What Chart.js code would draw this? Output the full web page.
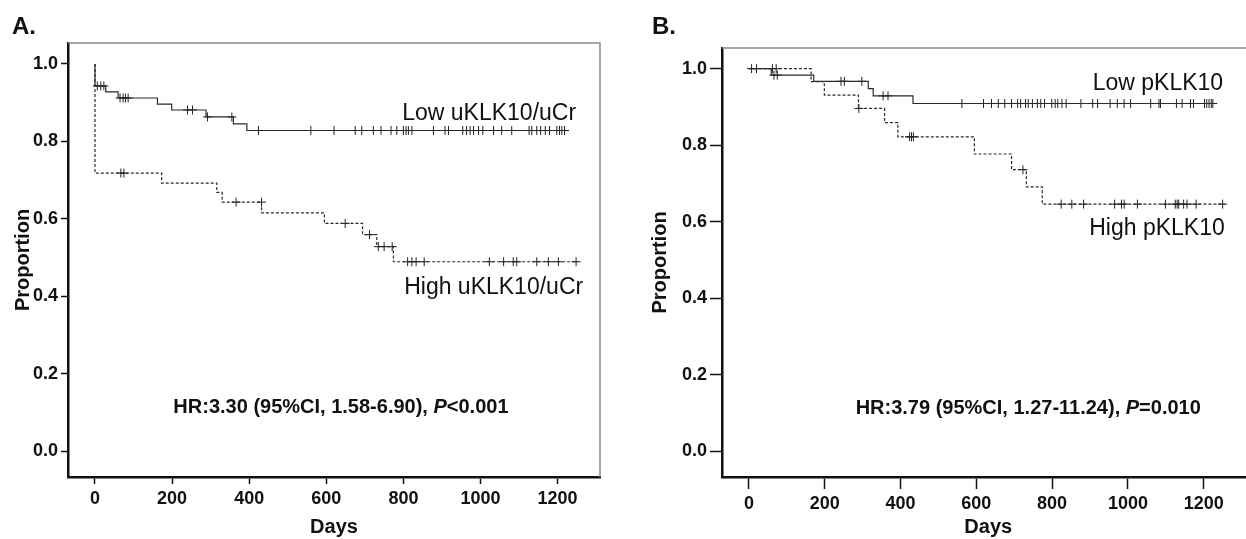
<!DOCTYPE html>
<html><head><meta charset="utf-8">
<script src="https://cdn.jsdelivr.net/npm/chart.js@4.4.1/dist/chart.umd.min.js"></script>
<style>
html,body{margin:0;padding:0;background:#fff;overflow:hidden;width:1246px;height:539px;}
canvas{position:absolute;top:0;}
</style></head><body>
<canvas id="cA" width="620" height="539" style="left:0px"></canvas>
<canvas id="cB" width="620" height="539" style="left:640px"></canvas>
<script>
// ---------- axes ----------
const xTicks = [0, 200, 400, 600, 800, 1000, 1200];
const yTicks = [0.0, 0.2, 0.4, 0.6, 0.8, 1.0];

// ---------- Panel A : uKLK10/uCr ----------
const lowA_t = [0, 0, 28, 60, 162, 199, 288, 359, 394, 1218];
const lowA_s = [1.0, 0.943, 0.928, 0.912, 0.896, 0.881, 0.863, 0.845, 0.828, 0.828];
const lowA_ct = [6, 15, 23, 65, 73, 79, 86, 240, 253, 292, 355,
  424, 560, 620, 675, 692, 722, 742, 768, 783, 800, 807, 813, 822, 878, 908, 917, 954, 964, 973, 982,
  995, 1006, 1034, 1055, 1081, 1126, 1133, 1146, 1156, 1168, 1179, 1198, 1205, 1211, 1218];
const lowA_cs = [0.943, 0.943, 0.943, 0.912, 0.912, 0.912, 0.912, 0.881, 0.881, 0.863, 0.863,
  0.828, 0.828, 0.828, 0.828, 0.828, 0.828, 0.828, 0.828, 0.828, 0.828, 0.828, 0.828, 0.828, 0.828, 0.828, 0.828, 0.828, 0.828, 0.828, 0.828,
  0.828, 0.828, 0.828, 0.828, 0.828, 0.828, 0.828, 0.828, 0.828, 0.828, 0.828, 0.828, 0.828, 0.828, 0.828];

const highA_t = [0, 0, 173, 316, 330, 432, 595, 694, 731, 774, 1254];
const highA_s = [1.0, 0.718, 0.692, 0.668, 0.643, 0.615, 0.588, 0.559, 0.528, 0.489, 0.489];
const highA_ct = [67, 75, 366, 432, 649, 712, 735, 750, 771, 811, 822, 833, 854, 1023, 1060, 1085, 1094, 1146, 1176, 1202, 1248];
const highA_cs = [0.718, 0.718, 0.643, 0.643, 0.588, 0.559, 0.528, 0.528, 0.528, 0.489, 0.489, 0.489, 0.489, 0.489, 0.489, 0.489, 0.489, 0.489, 0.489, 0.489, 0.489];

// ---------- Panel B : pKLK10 ----------
const lowB_t = [0, 59, 171, 315, 328, 433, 1227];
const lowB_s = [1.0, 0.983, 0.967, 0.948, 0.929, 0.909, 0.909];
const lowB_ct = [7, 20, 66, 75, 243, 252, 298, 354, 367,
  562, 619, 640, 658, 675, 693, 709, 717, 730, 737, 748, 761, 770, 780, 799, 808, 815, 826, 837, 876, 907, 920,
  953, 972, 990, 1007, 1060, 1082, 1086, 1128, 1143, 1165, 1173, 1202, 1208, 1214, 1220, 1224];
const lowB_cs = [1.0, 1.0, 0.983, 0.983, 0.967, 0.967, 0.967, 0.929, 0.929,
  0.909, 0.909, 0.909, 0.909, 0.909, 0.909, 0.909, 0.909, 0.909, 0.909, 0.909, 0.909, 0.909, 0.909, 0.909, 0.909, 0.909, 0.909, 0.909, 0.909, 0.909, 0.909,
  0.909, 0.909, 0.909, 0.909, 0.909, 0.909, 0.909, 0.909, 0.909, 0.909, 0.909, 0.909, 0.909, 0.909, 0.909, 0.909];

const highB_t = [0, 164, 199, 289, 358, 393, 595, 693, 732, 774, 1256];
const highB_s = [1.0, 0.966, 0.931, 0.896, 0.859, 0.822, 0.777, 0.736, 0.691, 0.646, 0.646];
const highB_ct = [62, 72, 290, 424, 429, 434, 723, 824, 852, 883, 965, 983, 990, 1025, 1099, 1125, 1130, 1134, 1147, 1156, 1180, 1250];
const highB_cs = [1.0, 1.0, 0.896, 0.822, 0.822, 0.822, 0.736, 0.646, 0.646, 0.646, 0.646, 0.646, 0.646, 0.646, 0.646, 0.646, 0.646, 0.646, 0.646, 0.646, 0.646, 0.646];

// ---------- texts ----------
const panelLetters = ['A.', 'B.'];
const labelsA = [{text: 'Low uKLK10/uCr', x: 797, y: 0.856}, {text: 'High uKLK10/uCr', x: 802, y: 0.406}];
const labelsB = [{text: 'Low pKLK10', x: 907, y: 0.945}, {text: 'High pKLK10', x: 898, y: 0.566}];
const hrA = {pre: 'HR:3.30 (95%CI, 1.58-6.90), ', p: 'P', post: '<0.001', x: 638, y: 0.098};
const hrB = {pre: 'HR:3.79 (95%CI, 1.27-11.24), ', p: 'P', post: '=0.010', x: 737, y: 0.097};

// ---------- helpers ----------
const FONT = "'Liberation Sans', Arial, Helvetica, sans-serif";
Chart.defaults.font.family = FONT;
Chart.defaults.color = '#111';

const pts = (t, s) => t.map((v, i) => ({x: v, y: s[i]}));

const kmPlugin = {
  id: 'kmText',
  afterDraw(chart, args, o) {
    const {ctx, chartArea: ca, scales: {x, y}} = chart;
    ctx.save();
    // frame (top & right)
    ctx.strokeStyle = '#8c8c8c';
    ctx.lineWidth = 1.5;
    ctx.beginPath();
    ctx.moveTo(ca.left, ca.top);
    ctx.lineTo(ca.right, ca.top);
    ctx.lineTo(ca.right, ca.bottom);
    ctx.stroke();
    // panel letter
    ctx.fillStyle = '#111';
    ctx.textBaseline = 'alphabetic';
    ctx.textAlign = 'left';
    ctx.font = 'bold 24px ' + FONT;
    ctx.fillText(o.letter, o.letterX, 34);
    // curve labels
    ctx.font = o.labelSize + 'px ' + FONT;
    o.labels.forEach(l => ctx.fillText(l.text, x.getPixelForValue(l.x), y.getPixelForValue(l.y)));
    // HR text
    const hr = o.hr;
    const fb = 'bold ' + o.hrSize + 'px ' + FONT, fi = 'italic bold ' + o.hrSize + 'px ' + FONT;
    ctx.font = fb; const w1 = ctx.measureText(hr.pre).width, w3 = ctx.measureText(hr.post).width;
    ctx.font = fi; const w2 = ctx.measureText(hr.p).width;
    let px = x.getPixelForValue(hr.x) - (w1 + w2 + w3) / 2;
    const py = y.getPixelForValue(hr.y);
    ctx.font = fb; ctx.fillText(hr.pre, px, py); px += w1;
    ctx.font = fi; ctx.fillText(hr.p, px, py); px += w2;
    ctx.font = fb; ctx.fillText(hr.post, px, py);
    ctx.restore();
  }
};

function makeChart(id, c) {
  const curve = (t, s, dash) => ({
    type: 'line', data: pts(t, s), stepped: 'before', borderColor: '#2a2a2a',
    borderWidth: 1.2, borderDash: dash, pointRadius: 0, fill: false
  });
  const cens = (t, s) => ({
    type: 'scatter', data: pts(t, s), showLine: false, pointStyle: 'cross',
    pointRadius: 4.5, pointBorderWidth: 1, borderColor: '#222', backgroundColor: '#222'
  });
  return new Chart(document.getElementById(id), {
    type: 'line',
    data: {datasets: [
      curve(c.lowT, c.lowS, []), curve(c.highT, c.highS, [3, 2]),
      cens(c.lowCT, c.lowCS), cens(c.highCT, c.highCS)
    ]},
    plugins: [kmPlugin],
    options: {
      responsive: false, animation: false, events: [],
      layout: {padding: {top: c.padTop, right: c.padRight, bottom: 0, left: 0}},
      plugins: {
        legend: {display: false}, tooltip: {enabled: false},
        kmText: {letter: c.letter, letterX: 12, labels: c.labels, hr: c.hr, labelSize: 23, hrSize: 20}
      },
      scales: {
        x: {
          type: 'linear', min: c.xMin, max: c.xMax,
          afterBuildTicks: s => { s.ticks = xTicks.map(v => ({value: v})); },
          afterFit: s => { s.height = 62; },
          ticks: {font: {size: 18, weight: 'bold'}, color: '#111', padding: 4, maxRotation: 0, autoSkip: false, callback: v => String(v)},
          grid: {display: true, drawOnChartArea: false, drawTicks: true, tickLength: c.tick, tickColor: '#111', tickWidth: 1.5},
          border: {display: true, color: '#111', width: 2.5},
          title: {display: true, text: 'Days', font: {size: 20, weight: 'bold'}, color: '#111', padding: {top: 0, bottom: 0}}
        },
        y: {
          type: 'linear', min: -0.067, max: 1.054,
          afterBuildTicks: s => { s.ticks = yTicks.map(v => ({value: v})); },
          afterFit: s => { s.width = c.yWidth; },
          ticks: {font: {size: 18, weight: 'bold'}, color: '#111', padding: 3, callback: v => v.toFixed(1)},
          grid: {display: true, drawOnChartArea: false, drawTicks: true, tickLength: c.tick, tickColor: '#111', tickWidth: 1.5},
          border: {display: true, color: '#111', width: 2.5},
          title: {display: true, text: 'Proportion', font: {size: 20, weight: 'bold'}, color: '#111', padding: {top: c.yTitlePad, bottom: 0}}
        }
      }
    }
  });
}

makeChart('cA', {
  letter: panelLetters[0], lowT: lowA_t, lowS: lowA_s, highT: highA_t, highS: highA_s,
  lowCT: lowA_ct, lowCS: lowA_cs, highCT: highA_ct, highCS: highA_cs,
  labels: labelsA, hr: hrA, padTop: 43, padRight: 20, xMin: -70, xMax: 1310,
  yWidth: 68, yTitlePad: 11, tick: 7
});
makeChart('cB', {
  letter: panelLetters[1], lowT: lowB_t, lowS: lowB_s, highT: highB_t, highS: highB_s,
  lowCT: lowB_ct, lowCS: lowB_cs, highCT: highB_ct, highCS: highB_cs,
  labels: labelsB, hr: hrB, padTop: 48, padRight: 2, xMin: -71, xMax: 1334,
  yWidth: 82, yTitlePad: 8, tick: 12
});
</script>
</body></html>
